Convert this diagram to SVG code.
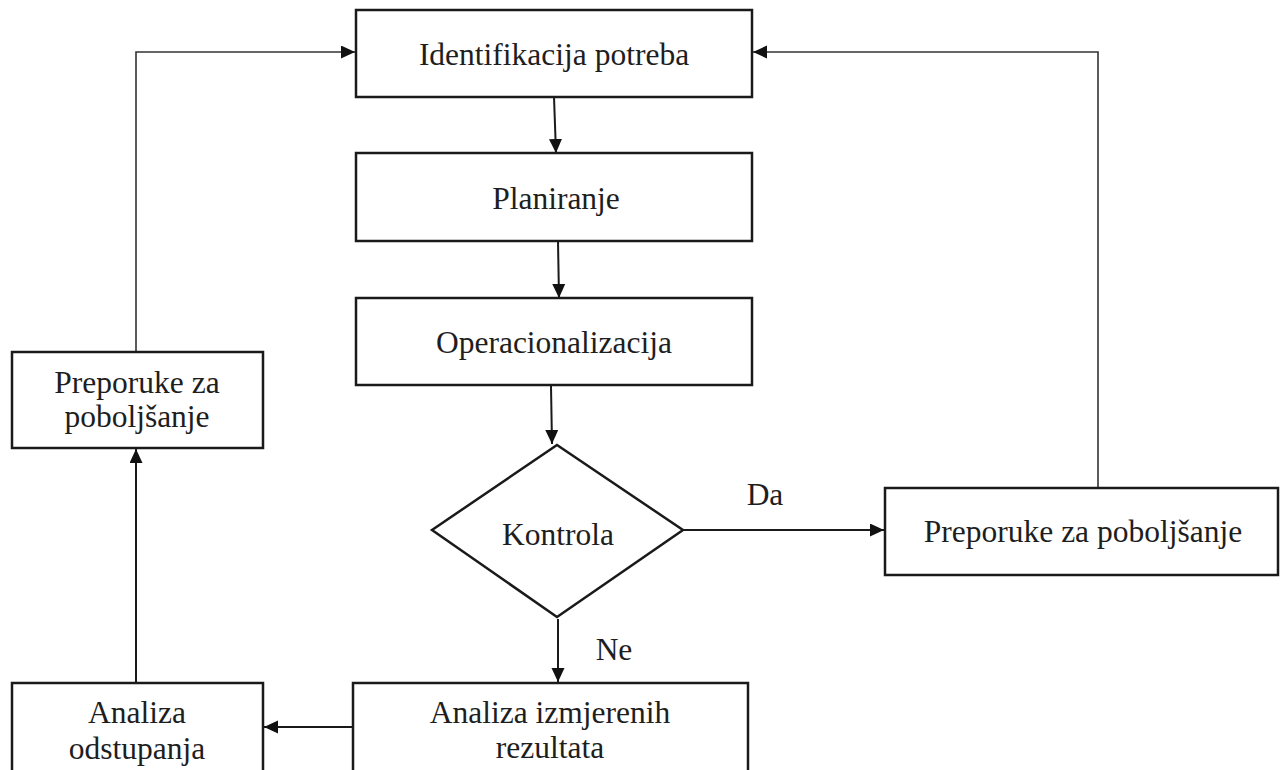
<svg xmlns="http://www.w3.org/2000/svg" width="1280" height="770" viewBox="0 0 1280 770">
<defs>
<style>
.box{fill:#fff;stroke:#1a1a1a;stroke-width:2.5}
.ln{fill:none;stroke:#1a1a1a;stroke-width:2}
.thin{fill:none;stroke:#333;stroke-width:1.6}
text{font-family:"Liberation Serif","Times New Roman",serif;font-size:31.5px;fill:#1e1e1e;text-anchor:middle}
</style>
<marker id="ah" markerUnits="userSpaceOnUse" markerWidth="16" markerHeight="14" refX="14" refY="6.5" orient="auto">
<path d="M0,0 L14,6.5 L0,13 z" fill="#111"/>
</marker>
</defs>
<rect width="1280" height="770" fill="#fff"/>
<g id="connectors">
<path class="ln" d="M554,97 L556,153" marker-end="url(#ah)"/>
<path class="ln" d="M558,241 L559,298" marker-end="url(#ah)"/>
<path class="ln" d="M551,386 L552,444" marker-end="url(#ah)"/>
<path class="ln" d="M683,530 L884,530" marker-end="url(#ah)"/>
<path class="ln" d="M558,619 L558,682" marker-end="url(#ah)"/>
<path class="ln" d="M353,727 L264,727" marker-end="url(#ah)"/>
<path class="ln" d="M136,683 L136,449" marker-end="url(#ah)"/>
<path class="thin" d="M136,352 L136,52 L355,52" marker-end="url(#ah)"/>
<path class="thin" d="M1098,488 L1098,52 L753,52" marker-end="url(#ah)"/>
<text x="765" y="505">Da</text>
<text x="614" y="660">Ne</text>
</g>
<g id="n1"><rect class="box" x="356" y="10" width="396" height="87"/><text x="554" y="65">Identifikacija potreba</text></g>
<g id="n2"><rect class="box" x="356" y="153" width="396" height="88"/><text x="556" y="209">Planiranje</text></g>
<g id="n3"><rect class="box" x="356" y="298" width="396" height="87"/><text x="554" y="353">Operacionalizacija</text></g>
<g id="n4"><polygon class="box" points="557,445 683,530 557,617 432,530"/><text x="558" y="545">Kontrola</text></g>
<g id="n5"><rect class="box" x="885" y="488" width="393" height="87"/><text x="1083" y="542">Preporuke za poboljšanje</text></g>
<g id="n6"><rect class="box" x="12" y="352" width="251" height="96"/><text x="137" y="393">Preporuke za</text><text x="137" y="427">poboljšanje</text></g>
<g id="n7"><rect class="box" x="12" y="683" width="251" height="110"/><text x="137" y="723">Analiza</text><text x="137" y="759">odstupanja</text></g>
<g id="n8"><rect class="box" x="353" y="683" width="395" height="110"/><text x="550" y="723">Analiza izmjerenih</text><text x="550" y="758">rezultata</text></g>
</svg>
